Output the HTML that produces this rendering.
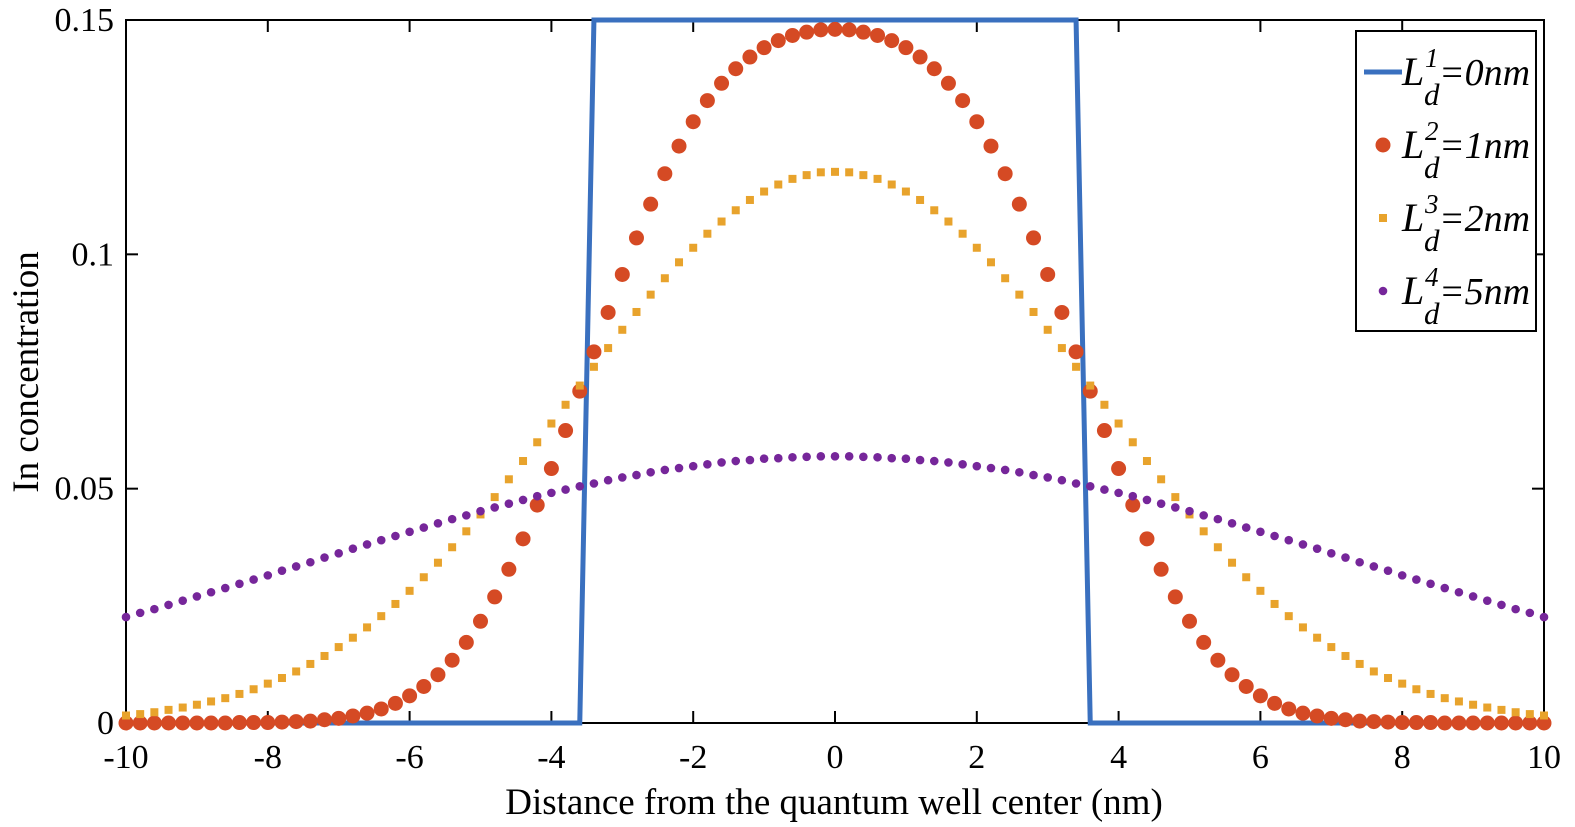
<!DOCTYPE html>
<html><head><meta charset="utf-8"><style>
html,body{margin:0;padding:0;background:#fff;}
svg{display:block;font-family:"Liberation Serif",serif;}
</style></head><body>
<svg id="chart" width="1575" height="827" viewBox="0 0 1575 827" xmlns="http://www.w3.org/2000/svg"></svg>
<script>
const xTicks=[-10,-8,-6,-4,-2,0,2,4,6,8,10];
const yTicks=[0,0.05,0.1,0.15];
const yTickLabels=["0","0.05","0.1","0.15"];
const wellX=[-10,-3.6,-3.4,3.4,3.6,10];
const wellY=[0,0,0.15,0.15,0,0];
const redHalf=[.1480,.1479,.1474,.1467,.1456,.1441,.1421,.1396,.1365,.1328,.1283,.1231,.1172,.1107,.1035,.0957,.0876,.0792,.0708,.0624,.0543,.0465,.0393,.0328,.0269,.0217,.0172,.0134,.0103,.0078,.0058,.0042,.0030,.0021,.0015,.0010,.0007,.0004,.0003,.0002,.0001,.0001,.0001,0,0,0,0,0,0,0,0];
const yellowHalf=[.1176,.1175,.1169,.1161,.1149,.1134,.1116,.1094,.1070,.1044,.1014,.0983,.0949,.0914,.0877,.0839,.0800,.0760,.0720,.0679,.0639,.0599,.0559,.0520,.0482,.0445,.0409,.0375,.0342,.0311,.0282,.0254,.0228,.0204,.0182,.0162,.0143,.0126,.0110,.0096,.0084,.0072,.0062,.0053,.0046,.0039,.0033,.0028,.0023,.0019,.0016];
const purpleHalf=[.0569,.0569,.0568,.0567,.0565,.0564,.0561,.0559,.0556,.0552,.0548,.0544,.0540,.0535,.0529,.0524,.0518,.0511,.0505,.0498,.0491,.0484,.0476,.0468,.0460,.0452,.0443,.0435,.0426,.0417,.0408,.0399,.0390,.0381,.0372,.0362,.0353,.0343,.0334,.0325,.0315,.0306,.0297,.0288,.0279,.0270,.0261,.0252,.0243,.0235,.0226];
const xs=[];for(let i=0;i<=100;i++)xs.push(-10+i*0.2);
function full(h){return h.slice(1).reverse().concat(h);}
const redVals=full(redHalf),yellowVals=full(yellowHalf),purpleVals=full(purpleHalf);

const L=126,R=1544,T=20,B=723;
const sx=v=>L+(v+10)/20*(R-L);
const sy=v=>B-v/0.15*(B-T);
const NS="http://www.w3.org/2000/svg";
const svg=document.getElementById('chart');
function mk(tag,attrs,parent){const e=document.createElementNS(NS,tag);for(const k in attrs)e.setAttribute(k,attrs[k]);(parent||svg).appendChild(e);return e;}

xTicks.forEach(t=>{
  const g=mk('line',{x1:sx(t),x2:sx(t),y1:B,y2:B-12,stroke:'#000','stroke-width':2});
  
  
  const g2=mk('line',{x1:sx(t),x2:sx(t),y1:T,y2:T+12,stroke:'#000','stroke-width':2});
  
  
  const tx=mk('text',{x:sx(t),y:768,'font-size':34,'text-anchor':'middle',fill:'#000'});
  tx.textContent=String(t);
  
  
});
yTicks.forEach((t,i)=>{
  const g=mk('line',{x1:L,x2:L+12,y1:sy(t),y2:sy(t),stroke:'#000','stroke-width':2});
  
  
  const g2=mk('line',{x1:R,x2:R-12,y1:sy(t),y2:sy(t),stroke:'#000','stroke-width':2});
  
  
  const tx=mk('text',{x:114,y:sy(t)+11,'font-size':34,'text-anchor':'end',fill:'#000'});
  tx.textContent=yTickLabels[i];
  
  
});
const frame=mk('rect',{x:L,y:T,width:R-L,height:B-T,fill:'none',stroke:'#000','stroke-width':2});



const xl=mk('text',{x:(L+R)/2-1,y:814,'font-size':37,'text-anchor':'middle',fill:'#000'});
xl.textContent='Distance from the quantum well center (nm)';


const yl=mk('text',{x:0,y:0,'font-size':37,'text-anchor':'middle',fill:'#000',transform:'translate(38,372) rotate(-90)'});
yl.textContent='In concentration';



const well=mk('polyline',{points:wellX.map((x,i)=>sx(x)+','+sy(wellY[i])).join(' '),fill:'none',stroke:'#3A70BF','stroke-width':5,'stroke-linejoin':'miter'});


const gR=mk('g',{fill:'#D54A24'});
const gY=mk('g',{fill:'#E8A32C'});
const gP=mk('g',{fill:'#76269A'});
xs.forEach((x,i)=>{
  const c=mk('circle',{cx:sx(x),cy:sy(redVals[i]),r:7.5},gR);
  
  
  const s=mk('rect',{x:sx(x)-4,y:sy(yellowVals[i])-4,width:8,height:8},gY);
  
  
  const p=mk('circle',{cx:sx(x),cy:sy(purpleVals[i]),r:4.3},gP);
  
  
});

const lg=mk('g',{});
mk('rect',{x:1356,y:31,width:180,height:300,fill:'#fff',stroke:'#000','stroke-width':2},lg);
const entries=[["1","0"],["2","1"],["3","2"],["4","5"]];
entries.forEach((e,i)=>{
  const cy=72+i*73;
  const eg=mk('g',{},lg);
  
  
  if(i===0)mk('line',{x1:1364,x2:1402,y1:cy,y2:cy,stroke:'#3A70BF','stroke-width':5},eg);
  if(i===1)mk('circle',{cx:1383,cy:cy,r:7.5,fill:'#D54A24'},eg);
  if(i===2)mk('rect',{x:1379,y:cy-4,width:8,height:8,fill:'#E8A32C'},eg);
  if(i===3)mk('circle',{cx:1383,cy:cy,r:4.3,fill:'#76269A'},eg);
  const t=mk('text',{x:1402,y:cy+13,'font-size':40,'font-style':'italic',fill:'#000'},eg);
  t.textContent='L';
  const sup=mk('text',{x:1425,y:cy-5,'font-size':27,'font-style':'italic',fill:'#000'},eg);
  sup.textContent=e[0];
  const sub=mk('text',{x:1424,y:cy+33,'font-size':31,'font-style':'italic',fill:'#000'},eg);
  sub.textContent='d';
  const rest=mk('text',{x:1439,y:cy+13,'font-size':38,'font-style':'italic',fill:'#000'},eg);
  rest.textContent='='+e[1]+'nm';
});
</script>
</body></html>
